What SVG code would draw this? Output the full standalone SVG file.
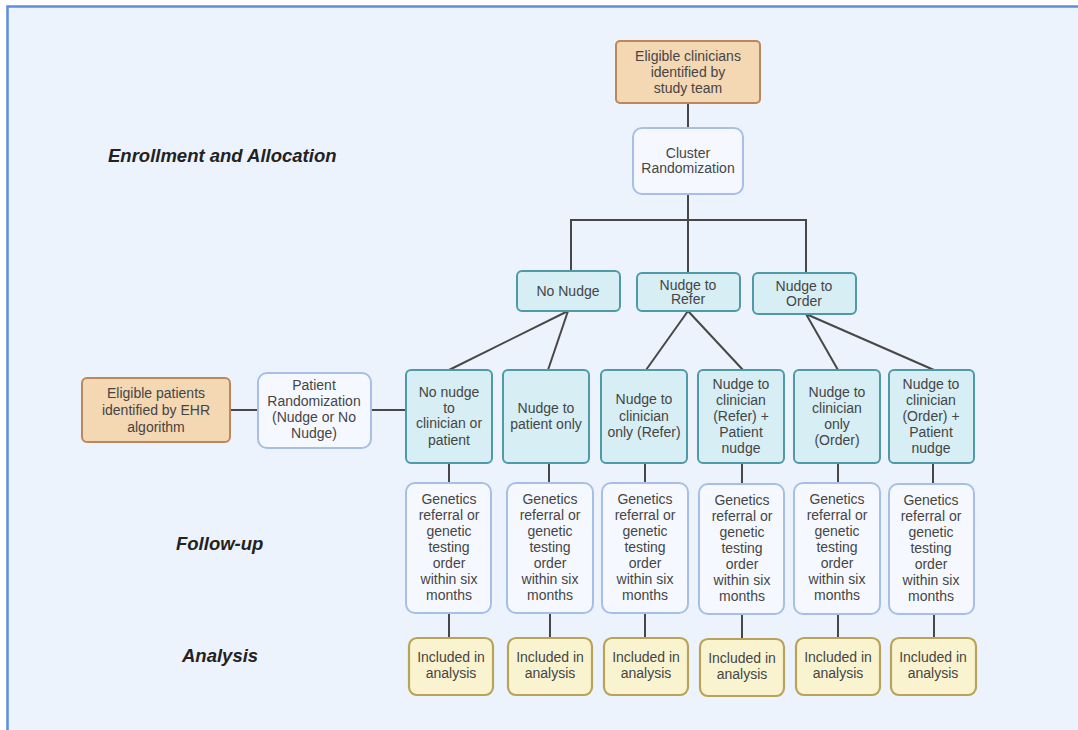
<svg xmlns="http://www.w3.org/2000/svg" width="1078" height="730" viewBox="0 0 1078 730">
<style>
text{font-family:"Liberation Sans",Arial,sans-serif;font-size:14px;fill:#454545;text-anchor:middle}
.sec{font-weight:bold;font-style:italic;font-size:18.5px;fill:#222;text-anchor:start}
.tan{fill:#F4D7B3;stroke:#BC875C;stroke-width:2}
.cyan{fill:#D6EEF4;stroke:#4E9AA6;stroke-width:2}
.wb{fill:#F5F9FF;stroke:#A7BFE6;stroke-width:2}
.yel{fill:#FAF3CF;stroke:#B7A35A;stroke-width:2.2}
.ln{stroke:#474747;stroke-width:2;fill:none}
</style>
<rect x="0" y="0" width="1078" height="730" fill="#ffffff"/>
<rect x="7" y="6" width="1071" height="724" fill="#EDF3FC"/>
<path d="M7.5 730 V6.5 H1078" stroke="#5B8FDB" stroke-width="2.5" fill="none"/>
<text class="sec" x="108" y="162">Enrollment and Allocation</text>
<text class="sec" x="176" y="550">Follow-up</text>
<text class="sec" x="182" y="662">Analysis</text>
<g id="connectors">
<path class="ln" d="M688 103 V128"/>
<path class="ln" d="M688 194 V220"/>
<path class="ln" d="M571 271 V220 H806 V273"/>
<path class="ln" d="M688 220 V273"/>
<path class="ln" d="M568 311 L449 370"/>
<path class="ln" d="M568 311 L548 370"/>
<path class="ln" d="M688 311 L646 370"/>
<path class="ln" d="M688 311 L743 370"/>
<path class="ln" d="M806 314 L838 370"/>
<path class="ln" d="M806 314 L934 370"/>
<path class="ln" d="M230 410 H258"/>
<path class="ln" d="M371 410 H406"/>
<path class="ln" d="M449 463 V483"/>
<path class="ln" d="M549 463 V483"/>
<path class="ln" d="M645 463 V483"/>
<path class="ln" d="M742 463 V484"/>
<path class="ln" d="M838 463 V483"/>
<path class="ln" d="M933 463 V483"/>
<path class="ln" d="M449 613 V638"/>
<path class="ln" d="M550 613 V638"/>
<path class="ln" d="M645 613 V638"/>
<path class="ln" d="M742 614 V638"/>
<path class="ln" d="M838 614 V638"/>
<path class="ln" d="M934 614 V638"/>
</g>
<g id="n-clinicians"><rect class="tan" x="616" y="41" width="144" height="62" rx="4"/>
<text x="688" y="61">Eligible clinicians</text><text x="688" y="77">identified by</text><text x="688" y="93">study team</text></g>
<g id="n-cluster"><rect class="wb" x="633" y="128" width="110" height="66" rx="9"/>
<text x="688" y="158">Cluster</text><text x="688" y="173">Randomization</text></g>
<g id="n-nonudge"><rect class="cyan" x="517" y="271" width="103" height="40" rx="5"/>
<text x="568" y="296">No Nudge</text></g>
<g id="n-refer"><rect class="cyan" x="637" y="273" width="103" height="38" rx="5"/>
<text x="688" y="290">Nudge to</text><text x="688" y="304">Refer</text></g>
<g id="n-order"><rect class="cyan" x="753" y="273" width="103" height="41" rx="5"/>
<text x="804" y="291">Nudge to</text><text x="804" y="306">Order</text></g>
<g id="n-patients"><rect class="tan" x="82" y="378" width="148" height="64" rx="5"/>
<text x="156" y="398">Eligible patients</text><text x="156" y="415">identified by EHR</text><text x="156" y="432">algorithm</text></g>
<g id="n-patrand"><rect class="wb" x="258" y="373" width="113" height="75" rx="9"/>
<text x="314" y="390">Patient</text><text x="314" y="406">Randomization</text><text x="314" y="422">(Nudge or No</text><text x="314" y="438">Nudge)</text></g>
<g id="n-arm1"><rect class="cyan" x="406" y="370" width="86" height="93" rx="5"/>
<text x="449" y="397">No nudge</text><text x="449" y="413">to</text><text x="449" y="428">clinician or</text><text x="449" y="445">patient</text></g>
<g id="n-arm2"><rect class="cyan" x="503" y="370" width="86" height="93" rx="5"/>
<text x="546" y="413">Nudge to</text><text x="546" y="429">patient only</text></g>
<g id="n-arm3"><rect class="cyan" x="601" y="370" width="86" height="93" rx="5"/>
<text x="644" y="404">Nudge to</text><text x="644" y="421">clinician</text><text x="644" y="437">only (Refer)</text></g>
<g id="n-arm4"><rect class="cyan" x="698" y="370" width="86" height="93" rx="5"/>
<text x="741" y="389">Nudge to</text><text x="741" y="405">clinician</text><text x="741" y="421">(Refer) +</text><text x="741" y="437">Patient</text><text x="741" y="453">nudge</text></g>
<g id="n-arm5"><rect class="cyan" x="794" y="370" width="86" height="93" rx="5"/>
<text x="837" y="397">Nudge to</text><text x="837" y="413">clinician</text><text x="837" y="429">only</text><text x="837" y="445">(Order)</text></g>
<g id="n-arm6"><rect class="cyan" x="889" y="370" width="85" height="93" rx="5"/>
<text x="931" y="389">Nudge to</text><text x="931" y="405">clinician</text><text x="931" y="421">(Order) +</text><text x="931" y="437">Patient</text><text x="931" y="453">nudge</text></g>
<g id="n-fu1"><rect class="wb" x="406" y="483" width="85" height="130" rx="9"/>
<text x="449" y="504">Genetics</text><text x="449" y="520">referral or</text><text x="449" y="536">genetic</text><text x="449" y="552">testing</text><text x="449" y="568">order</text><text x="449" y="584">within six</text><text x="449" y="600">months</text></g>
<g id="n-fu2"><rect class="wb" x="507" y="483" width="86" height="130" rx="9"/>
<text x="550" y="504">Genetics</text><text x="550" y="520">referral or</text><text x="550" y="536">genetic</text><text x="550" y="552">testing</text><text x="550" y="568">order</text><text x="550" y="584">within six</text><text x="550" y="600">months</text></g>
<g id="n-fu3"><rect class="wb" x="602" y="483" width="86" height="130" rx="9"/>
<text x="645" y="504">Genetics</text><text x="645" y="520">referral or</text><text x="645" y="536">genetic</text><text x="645" y="552">testing</text><text x="645" y="568">order</text><text x="645" y="584">within six</text><text x="645" y="600">months</text></g>
<g id="n-fu4"><rect class="wb" x="699" y="484" width="85" height="130" rx="9"/>
<text x="742" y="505">Genetics</text><text x="742" y="521">referral or</text><text x="742" y="537">genetic</text><text x="742" y="553">testing</text><text x="742" y="569">order</text><text x="742" y="585">within six</text><text x="742" y="601">months</text></g>
<g id="n-fu5"><rect class="wb" x="794" y="483" width="86" height="131" rx="9"/>
<text x="837" y="504">Genetics</text><text x="837" y="520">referral or</text><text x="837" y="536">genetic</text><text x="837" y="552">testing</text><text x="837" y="568">order</text><text x="837" y="584">within six</text><text x="837" y="600">months</text></g>
<g id="n-fu6"><rect class="wb" x="889" y="484" width="85" height="130" rx="9"/>
<text x="931" y="505">Genetics</text><text x="931" y="521">referral or</text><text x="931" y="537">genetic</text><text x="931" y="553">testing</text><text x="931" y="569">order</text><text x="931" y="585">within six</text><text x="931" y="601">months</text></g>
<g id="n-an1"><rect class="yel" x="409" y="638" width="84" height="57" rx="8"/><text x="451" y="662">Included in</text><text x="451" y="678">analysis</text></g>
<g id="n-an2"><rect class="yel" x="508" y="638" width="84" height="57" rx="8"/><text x="550" y="662">Included in</text><text x="550" y="678">analysis</text></g>
<g id="n-an3"><rect class="yel" x="604" y="638" width="84" height="57" rx="8"/><text x="646" y="662">Included in</text><text x="646" y="678">analysis</text></g>
<g id="n-an4"><rect class="yel" x="700" y="639" width="84" height="57" rx="8"/><text x="742" y="663">Included in</text><text x="742" y="679">analysis</text></g>
<g id="n-an5"><rect class="yel" x="796" y="638" width="84" height="57" rx="8"/><text x="838" y="662">Included in</text><text x="838" y="678">analysis</text></g>
<g id="n-an6"><rect class="yel" x="891" y="638" width="85" height="57" rx="8"/><text x="933" y="662">Included in</text><text x="933" y="678">analysis</text></g>
</svg>
